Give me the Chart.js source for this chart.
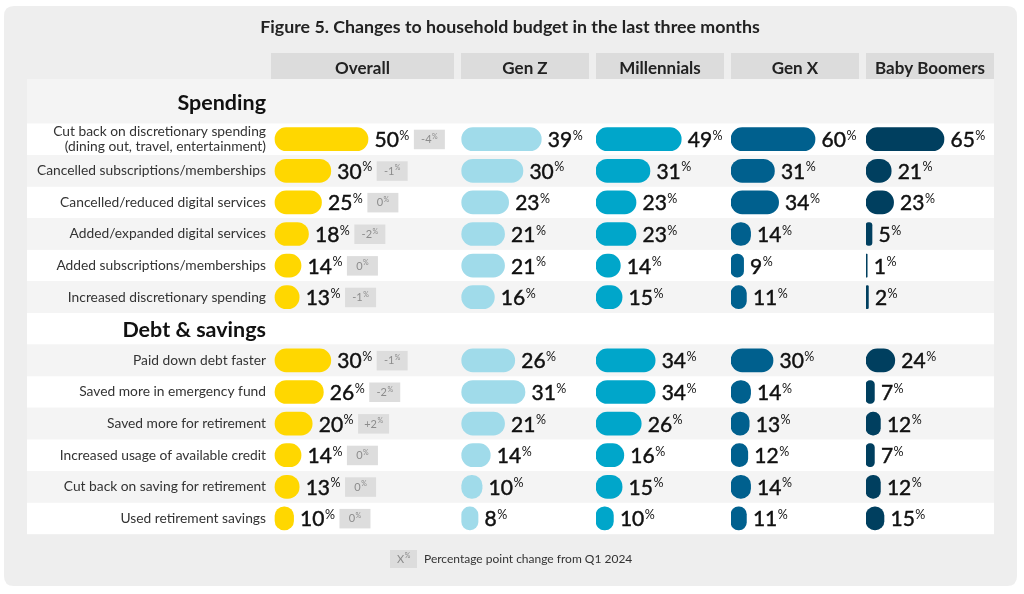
<!DOCTYPE html>
<html>
<head>
<meta charset="utf-8">
<script src="https://cdn.jsdelivr.net/npm/chart.js@4.4.1/dist/chart.umd.min.js"></script>
<style>
html,body{margin:0;padding:0;background:#ffffff;}
#wrap{position:relative;width:1024px;height:594px;}
</style>
</head>
<body>
<div id="wrap"><canvas id="c"></canvas></div>
<script>
// ---------- data ----------
const title = 'Figure 5. Changes to household budget in the last three months';
const groups = ['Overall', 'Gen Z', 'Millennials', 'Gen X', 'Baby Boomers'];
const categories = [
  'Spending',
  ['Cut back on discretionary spending', '(dining out, travel, entertainment)'],
  'Cancelled subscriptions/memberships',
  'Cancelled/reduced digital services',
  'Added/expanded digital services',
  'Added subscriptions/memberships',
  'Increased discretionary spending',
  'Debt & savings',
  'Paid down debt faster',
  'Saved more in emergency fund',
  'Saved more for retirement',
  'Increased usage of available credit',
  'Cut back on saving for retirement',
  'Used retirement savings'
];
const sectionRows = [0, 7];
const overall     = [null, 50, 30, 25, 18, 14, 13, null, 30, 26, 20, 14, 13, 10];
const genZ        = [null, 39, 30, 23, 21, 21, 16, null, 26, 31, 21, 14, 10, 8];
const millennials = [null, 49, 31, 23, 23, 14, 15, null, 34, 34, 26, 16, 15, 10];
const genX        = [null, 60, 31, 34, 14, 9, 11, null, 30, 14, 13, 12, 14, 11];
const boomers     = [null, 65, 21, 23, 5, 1, 2, null, 24, 7, 12, 7, 12, 15];
const changeVsQ1  = [null, '-4', '-1', '0', '-2', '0', '-1', null, '-1', '-2', '+2', '0', '0', '0'];
const legendLabel = 'Percentage point change from Q1 2024';
const legendSymbol = 'X';

// ---------- styling ----------
const colors = ['#ffd700', '#a0dbea', '#00a6ca', '#00608e', '#003f5f'];
const seriesData = [overall, genZ, millennials, genX, boomers];
const axisIds = ['x0', 'x1', 'x2', 'x3', 'x4'];
const FF = 'Lato, "Noto Sans", sans-serif';

function rr(ctx, x, y, w, h, r) {
  ctx.beginPath();
  ctx.moveTo(x + r, y);
  ctx.lineTo(x + w - r, y);
  ctx.quadraticCurveTo(x + w, y, x + w, y + r);
  ctx.lineTo(x + w, y + h - r);
  ctx.quadraticCurveTo(x + w, y + h, x + w - r, y + h);
  ctx.lineTo(x + r, y + h);
  ctx.quadraticCurveTo(x, y + h, x, y + h - r);
  ctx.lineTo(x, y + r);
  ctx.quadraticCurveTo(x, y, x + r, y);
  ctx.closePath();
}

const PANEL_LEFT = 27, PANEL_TOP = 79;

const decor = {
  id: 'decor',
  beforeDraw(chart) {
    const {ctx, chartArea: ca, scales} = chart;
    const y = scales.y;
    const rowH = (ca.bottom - ca.top) / categories.length;
    ctx.save();
    // outer background
    ctx.fillStyle = '#eeeeee';
    rr(ctx, 4, 6, 1013, 580, 10);
    ctx.fill();
    // title
    ctx.fillStyle = '#222222';
    ctx.font = 'bold 17.8px ' + FF;
    ctx.textAlign = 'center';
    ctx.textBaseline = 'alphabetic';
    ctx.fillText(title, 510, 32.7);
    // stripes
    categories.forEach((c, i) => {
      const cy = y.getPixelForValue(i);
      const top = i === 0 ? PANEL_TOP : cy - rowH / 2;
      const bottom = cy + rowH / 2;
      ctx.fillStyle = i % 2 === 0 ? '#f4f4f4' : '#ffffff';
      ctx.fillRect(PANEL_LEFT, top, ca.right - PANEL_LEFT, bottom - top);
    });
    // column headers
    const xs = axisIds.map(id => scales[id]);
    xs.forEach((s, i) => {
      const l = s.left;
      const r = i < xs.length - 1 ? xs[i + 1].left - 7 : s.right;
      ctx.fillStyle = '#dcdcdc';
      ctx.fillRect(l, 53, r - l, 26);
      ctx.fillStyle = '#222222';
      ctx.font = 'bold 17px ' + FF;
      ctx.textAlign = 'center';
      ctx.textBaseline = 'alphabetic';
      ctx.fillText(groups[i], (l + r) / 2, 73.7);
    });
    // row labels
    const rightX = ca.left - 5;
    ctx.textAlign = 'right';
    categories.forEach((c, i) => {
      const cy = y.getPixelForValue(i);
      if (sectionRows.includes(i)) {
        const top = i === 0 ? PANEL_TOP : cy - rowH / 2;
        const mid = (top + cy + rowH / 2) / 2;
        ctx.font = 'bold 21.5px ' + FF;
        ctx.fillStyle = '#111111';
        ctx.textBaseline = 'alphabetic';
        ctx.fillText(c, rightX, mid + 8.4);
      } else {
        ctx.font = '13.8px ' + FF;
        ctx.fillStyle = '#333333';
        ctx.textBaseline = 'middle';
        const lines = Array.isArray(c) ? c : [c];
        const lh = 14.5;
        lines.forEach((ln, k) => {
          ctx.fillText(ln, rightX, cy + (k - (lines.length - 1) / 2) * lh);
        });
      }
    });
    // legend
    ctx.fillStyle = '#dcdcdc';
    ctx.fillRect(390, 550, 27, 18);
    ctx.fillStyle = '#8a8a8a';
    ctx.font = '11px ' + FF;
    ctx.textAlign = 'left';
    ctx.textBaseline = 'alphabetic';
    const xw = ctx.measureText(legendSymbol).width;
    ctx.fillText(legendSymbol, 397, 563);
    ctx.font = '7px ' + FF;
    ctx.fillText('%', 397 + xw + 0.5, 558);
    ctx.fillStyle = '#333333';
    ctx.font = '12px ' + FF;
    ctx.textBaseline = 'middle';
    ctx.fillText(legendLabel, 424, 559);
    ctx.restore();
  },
  afterDatasetsDraw(chart) {
    const {ctx} = chart;
    ctx.save();
    chart.data.datasets.forEach((ds, d) => {
      const meta = chart.getDatasetMeta(d);
      meta.data.forEach((bar, i) => {
        const v = ds.data[i];
        if (v === null || v === undefined) return;
        const x0 = bar.x + 6.5;
        const cy = bar.y;
        ctx.fillStyle = '#111111';
        ctx.strokeStyle = '#111111';
        ctx.lineWidth = 0.45;
        ctx.textAlign = 'left';
        ctx.textBaseline = 'alphabetic';
        ctx.font = '21px ' + FF;
        const s = String(v);
        const w = ctx.measureText(s).width;
        ctx.fillText(s, x0, cy + 8);
        ctx.strokeText(s, x0, cy + 8);
        ctx.font = '12.5px ' + FF;
        const pw = ctx.measureText('%').width;
        ctx.fillText('%', x0 + w + 0.5, cy + 0.5);
        if (d === 0 && changeVsQ1[i] !== null) {
          const bx = x0 + w + pw + 5;
          ctx.fillStyle = '#dddddd';
          ctx.fillRect(bx, cy - 9.5, 31, 19.5);
          ctx.fillStyle = '#8c8c8c';
          ctx.font = '11px ' + FF;
          const t = changeVsQ1[i];
          const tw = ctx.measureText(t).width;
          ctx.font = '7px ' + FF;
          const sw = ctx.measureText('%').width;
          const start = bx + (31 - tw - sw - 0.5) / 2;
          ctx.font = '11px ' + FF;
          ctx.fillText(t, start, cy + 4);
          ctx.font = '7px ' + FF;
          ctx.fillText('%', start + tw + 0.5, cy - 0.5);
        }
      });
    });
    ctx.restore();
  }
};

const scaleCfg = (weight, min, max) => ({
  type: 'linear', position: 'bottom', stack: 'cols', stackWeight: weight,
  min: min, max: max, display: false
});

new Chart(document.getElementById('c'), {
  type: 'bar',
  data: {
    labels: categories,
    datasets: groups.map((g, k) => ({
      label: g,
      data: seriesData[k],
      xAxisID: axisIds[k],
      backgroundColor: colors[k]
    }))
  },
  options: {
    indexAxis: 'y',
    responsive: true,
    maintainAspectRatio: false,
    animation: false,
    layout: {padding: {left: 271, right: 30, top: 91.8, bottom: 59.8}},
    plugins: {legend: {display: false}, tooltip: {enabled: false}},
    datasets: {bar: {barThickness: 23, borderRadius: 12, borderSkipped: false, grouped: false}},
    scales: {
      y: {type: 'category', display: false},
      x0: scaleCfg(190, -2.15, 100),
      x1: scaleCfg(135, -0.34, 65.8),
      x2: scaleCfg(135, 0, 77.6),
      x3: scaleCfg(135, 0, 96.4),
      x4: scaleCfg(128, 0, 106.7)
    }
  },
  plugins: [decor]
});
</script>
</body>
</html>
